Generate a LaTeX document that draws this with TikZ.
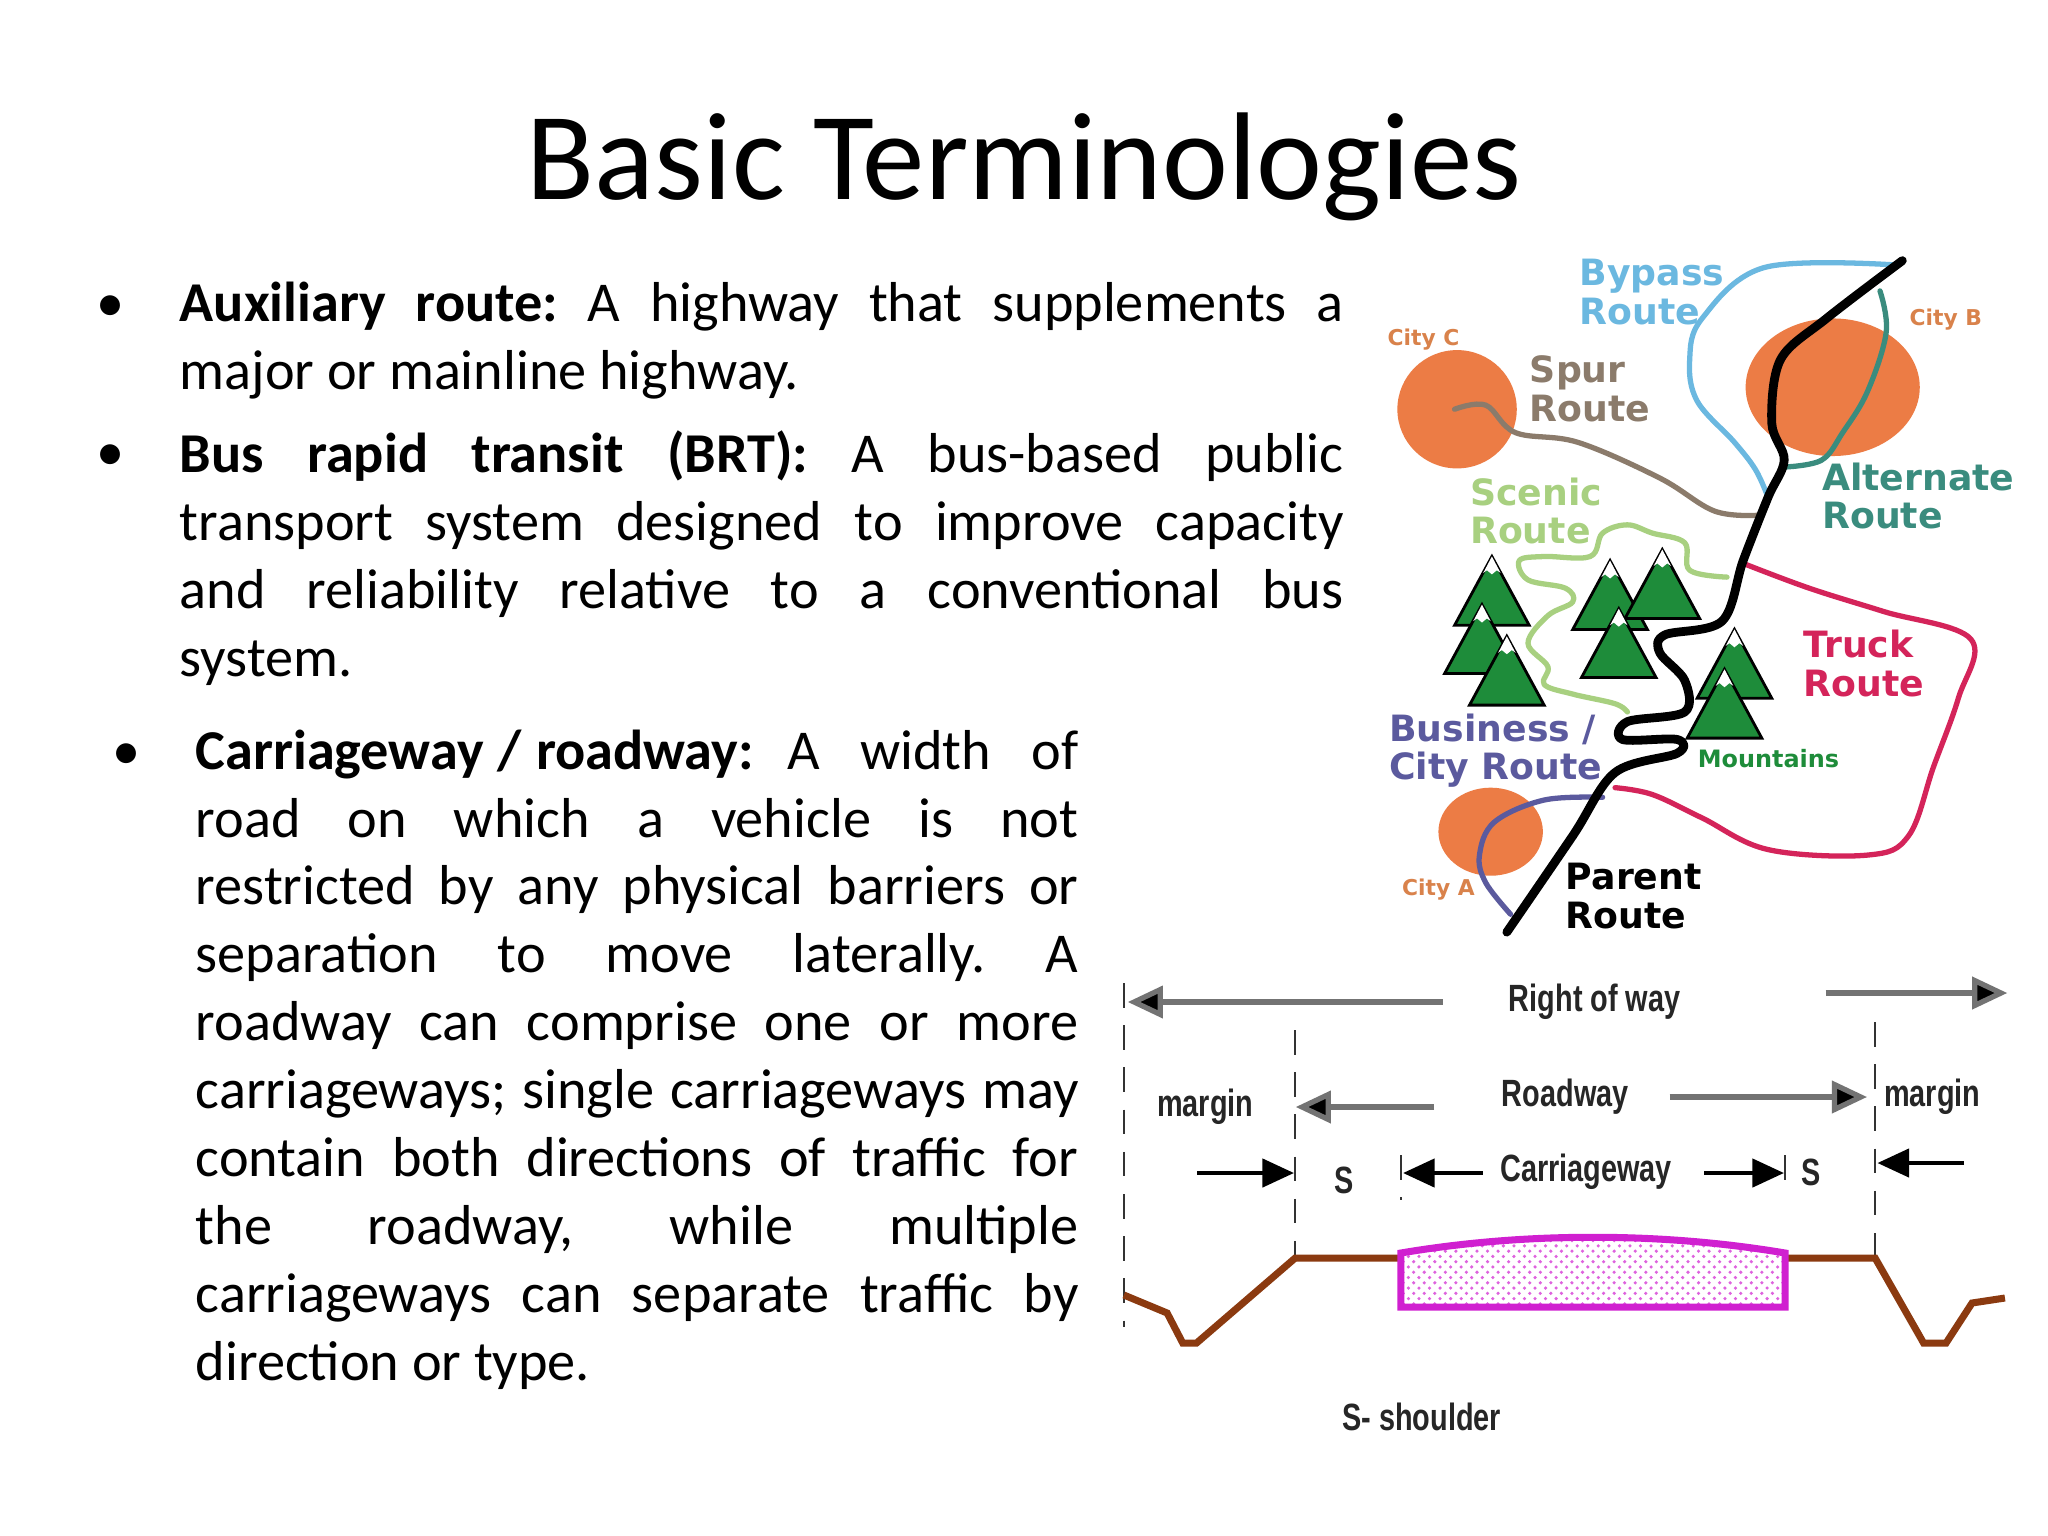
\documentclass[tikz,border=0pt]{standalone}
\usepackage{fontspec}
\setmainfont{Carlito}
\newfontfamily\mapfont{DejaVu Sans}
\newfontfamily\condfont[FakeStretch=0.76]{Liberation Sans}
\usetikzlibrary{arrows.meta,patterns}
\frenchspacing
\definecolor{cityor}{HTML}{EC7C45}
\definecolor{citylab}{HTML}{D9824B}
\definecolor{bypass}{HTML}{6BB8E0}
\definecolor{altr}{HTML}{3A8C7E}
\definecolor{spur}{HTML}{8B7B6B}
\definecolor{scenic}{HTML}{A8D080}
\definecolor{truck}{HTML}{D4245A}
\definecolor{busr}{HTML}{5B5A9E}
\definecolor{mtgreen}{HTML}{1E8C3A}
\definecolor{ground}{HTML}{8B3A10}
\definecolor{mag}{HTML}{D020D0}
\newcommand\bodyfnt{\fontsize{16}{19.3}\selectfont\frenchspacing\hyphenpenalty=10000\relax\exhyphenpenalty=10000\relax\emergencystretch=3em\relax\hfuzz=20pt\relax}
\newcommand\mtn[2]{%
  \filldraw[mtgreen,draw=black,line width=0.8pt] (#1,#2) -- ++(-30,50) -- ++(60,0) -- cycle;
  \fill[white] (#1,#2) -- ++(-7,12) -- ++(3,-2) -- ++(4,3) -- ++(4,-3) -- ++(3,2) -- cycle;}
\tikzset{
  body/.style={anchor=north west,inner sep=0pt,align=justify,font=\bodyfnt},
  bul/.style={anchor=base,inner sep=0pt,font=\bodyfnt},
  route/.style={line width=1.5pt,line cap=round,line join=round},
  mlab/.style={anchor=west,inner sep=0pt,align=left,font=\mapfont\bfseries\fontsize{10.3}{11}\selectfont},
  clab/.style={inner sep=0pt,font=\mapfont\bfseries\fontsize{6.2}{7}\selectfont,text=citylab},
  xlab/.style={inner sep=0pt,text=black!85,font=\condfont\bfseries\fontsize{10.8}{12}\selectfont},
  darr/.style={line width=1.5pt,draw=black!55,-{Triangle[length=10pt,width=9pt,fill=black]}},
  sarr/.style={line width=1.2pt,-{Triangle[length=9pt,width=8pt]}},
  dsh/.style={dashed,dash pattern=on 7pt off 5pt,line width=0.7pt,black!80},
}
\begin{document}
\begin{tikzpicture}[x=0.01cm,y=-0.01cm]
\useasboundingbox[fill=white] (0,0) rectangle (2048,1536);
\node[inner sep=0pt,font=\fontsize{35.5}{40}\selectfont] (title) at (1024,167) {Basic Terminologies};
% bullets
\node[bul] (b1) at (111,321) {•};
\node[body,text width=331pt] (t1) at (179,281) {\textbf{Auxiliary route:} A highway that supplements a major or mainline highway.};
\node[bul] (b2) at (111,470) {•};
\node[body,text width=331pt] (t2) at (179,430) {\textbf{Bus rapid transit (BRT):} A bus-based public transport system designed to improve capacity\linebreak and reliability relative to a conventional bus\linebreak system.};
\node[bul] (b3) at (127,769) {•};
\node[body,text width=251pt] (t3) at (195,729) {\textbf{Carriageway\hspace{0.25em}/\hspace{0.25em}roadway:}\hspace{0.6em}A width of\linebreak road on which a vehicle is not\linebreak restricted by any physical barriers or\linebreak separation to move laterally. A\linebreak roadway can comprise one or more\linebreak carriageways; single carriageways may\linebreak contain both directions of traffic for\linebreak the roadway, while multiple\linebreak carriageways can separate traffic by\linebreak direction or type.};
% ---- map
\begin{scope}[shift={(1370,240)},xscale=1.2438,yscale=1.376,shift={(-1370,-240)}]
\fill[cityor] (1440,363) ellipse (48 and 43);
\fill[cityor] (1742,347) ellipse (70 and 50);
\fill[cityor] (1467,670) ellipse (42 and 32);
\draw[route,spur] plot[smooth,tension=0.6] coordinates {(1438,363) (1463,360) (1487,380) (1537,387) (1603,413) (1647,437) (1683,440)};
\draw[route,bypass] plot[smooth,tension=0.6] coordinates {(1790,258) (1687,260) (1637,297) (1627,327) (1633,357) (1663,387) (1680,407) (1690,427)};
\draw[route,altr] plot[smooth,tension=0.6] coordinates {(1780,277) (1785,307) (1770,350) (1750,380) (1733,400) (1703,405)};
\draw[route,scenic] plot[smooth,tension=0.6] coordinates {(1657,485) (1627,480) (1623,460) (1597,453) (1577,447) (1557,453) (1547,470) (1510,470) (1490,473) (1497,487) (1527,493) (1533,503) (1513,513) (1497,533) (1513,550) (1510,563) (1533,570) (1567,577) (1577,583)};
\draw[route,truck] plot[smooth,tension=0.6] coordinates {(1670,475) (1723,493) (1783,510) (1853,530) (1843,573) (1823,623) (1803,673) (1770,687) (1690,683) (1637,660) (1597,643) (1567,638)};
\draw[route,busr] plot[smooth,tension=0.6] coordinates {(1557,645) (1510,647) (1470,663) (1458,687) (1463,707) (1483,730)};
\mtn{1468}{470}\mtn{1460}{505}\mtn{1480}{528}
\mtn{1563}{473}\mtn{1605}{465}\mtn{1570}{508}
\mtn{1663}{523}\mtn{1655}{552}
\draw[route,black,line width=2.5pt] plot[smooth,tension=0.55] coordinates {(1798,255) (1737,297) (1700,327) (1693,373) (1703,400) (1690,427) (1670,473) (1653,517) (1607,527) (1603,540) (1623,560) (1623,583) (1577,590) (1573,603) (1617,603) (1617,613) (1567,627) (1533,673) (1480,743)};
\node[mlab,text=bypass] (lby) at (1538,278) {Bypass\\Route};
\node[mlab,text=spur] (lsp) at (1498,348) {Spur\\Route};
\node[mlab,text=scenic] (lsc) at (1450,437) {Scenic\\Route};
\node[mlab,text=altr] (lal) at (1733,426) {Alternate\\Route};
\node[mlab,text=truck] (ltr) at (1718,548) {Truck\\Route};
\node[mlab,text=busr] (lbu) at (1385,611) {Business /\\City Route};
\node[mlab,text=black] (lpa) at (1527,717) {Parent\\Route};
\node[anchor=west,inner sep=0pt,font=\mapfont\bfseries\fontsize{6.8}{7}\selectfont,text=mtgreen] (lmt) at (1633,617) {Mountains};
\node[clab] (cc) at (1413,312) {City C};
\node[clab] (cb) at (1833,298) {City B};
\node[clab] (ca) at (1425,712) {City A};
\end{scope}
% ---- cross-section
\begin{scope}[shift={(1110,960)},xscale=1.731,shift={(-1110,-960)}]
\draw[dsh] (1118,983) -- (1118,1327);
\draw[dsh] (1217,1030) -- (1217,1257);
\draw[dsh] (1552,1022) -- (1552,1257);
\draw[dsh] (1278,1155) -- (1278,1200);
\draw[dsh] (1500,1155) -- (1500,1197);
\node[xlab] (row) at (1390,1002) {Right of way};
\node[xlab] (rdw) at (1373,1097) {Roadway};
\node[xlab] (mgl) at (1165,1107) {margin};
\node[xlab] (mgr) at (1585,1097) {margin};
\node[xlab] (cwy) at (1385,1172) {Carriageway};
\node[xlab] (s1) at (1245,1180) {S};
\node[xlab] (s2) at (1515,1172) {S};
\node[xlab] (sh) at (1290,1417) {S- shoulder};
\coordinate (r1) at (1302,1002); \coordinate (r2) at (1120,1002);
\coordinate (r3) at (1523,993); \coordinate (r4) at (1628,993);
\draw[darr] (r1) -- (r2); \draw[darr] (r3) -- (r4);
\coordinate (w1) at (1297,1107); \coordinate (w2) at (1217,1107);
\coordinate (w3) at (1433,1097); \coordinate (w4) at (1547,1097);
\draw[darr] (w1) -- (w2); \draw[darr] (w3) -- (w4);
\coordinate (c1) at (1160,1173); \coordinate (c2) at (1216,1173);
\coordinate (c3) at (1325,1173); \coordinate (c4) at (1279,1173);
\coordinate (c5) at (1453,1173); \coordinate (c6) at (1499,1173);
\coordinate (c7) at (1603,1163); \coordinate (c8) at (1553,1163);
\draw[sarr] (c1) -- (c2); \draw[sarr] (c3) -- (c4); \draw[sarr] (c5) -- (c6); \draw[sarr] (c7) -- (c8);
\draw[ground,line width=2pt] (1118,1295) -- (1143,1313) -- (1152,1343) -- (1160,1343) -- (1217,1258) -- (1278,1258);
\draw[ground,line width=2pt] (1500,1258) -- (1552,1258) -- (1580,1343) -- (1593,1343) -- (1608,1303) -- (1627,1298);
\fill[pattern=crosshatch dots,pattern color=mag!70] (1278,1253) .. controls (1350,1232) and (1428,1232) .. (1500,1253) -- (1500,1307) -- (1278,1307) -- cycle;
\draw[mag,line width=2pt] (1278,1253) .. controls (1350,1232) and (1428,1232) .. (1500,1253) -- (1500,1307) -- (1278,1307) -- cycle;
\end{scope}
\end{tikzpicture}
\end{document}
